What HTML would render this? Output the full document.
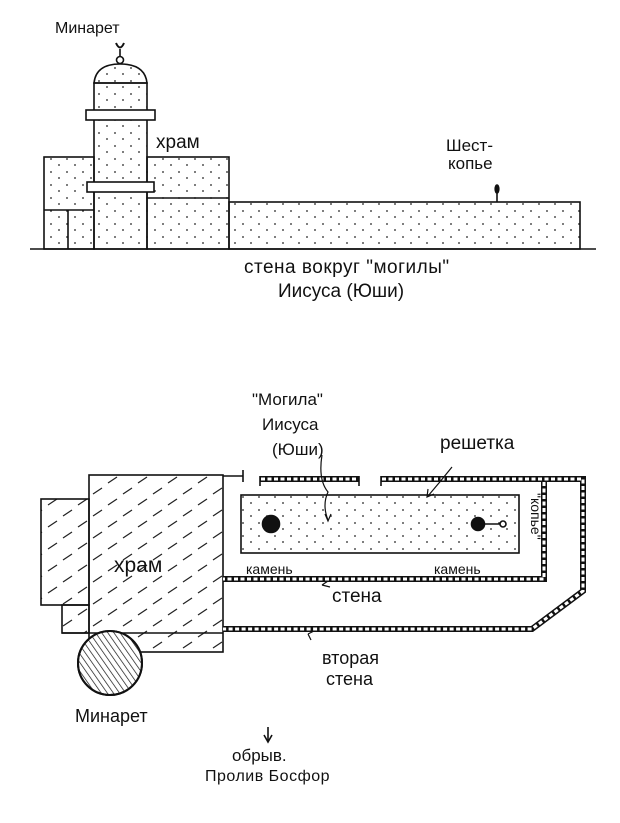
<!DOCTYPE html>
<html><head><meta charset="utf-8"><style>
html,body{margin:0;padding:0;background:#fff}
svg{display:block}
text{font-family:"Liberation Sans",sans-serif;fill:#111}
</style></head><body>
<svg width="620" height="823" viewBox="0 0 620 823" xmlns="http://www.w3.org/2000/svg">
<defs>
<pattern id="dots" width="16" height="13" patternUnits="userSpaceOnUse">
<circle cx="3" cy="3" r="0.9" fill="#222"/><circle cx="11" cy="9" r="0.9" fill="#222"/>
</pattern>
<pattern id="dash" width="30" height="22" patternUnits="userSpaceOnUse">
<line x1="3" y1="10" x2="12" y2="4" stroke="#222" stroke-width="1.2"/>
<line x1="18" y1="21" x2="27" y2="15" stroke="#222" stroke-width="1.2"/>
</pattern>
<pattern id="hatch" width="5" height="5" patternUnits="userSpaceOnUse" patternTransform="rotate(-35)">
<line x1="0" y1="0" x2="0" y2="5" stroke="#111" stroke-width="1.4"/>
</pattern>
</defs>
<g stroke="#111" stroke-width="1.6" fill="none">
<rect x="44" y="157" width="50" height="92" fill="url(#dots)"/>
<line x1="44" y1="210" x2="94" y2="210"/><line x1="68" y1="210" x2="68" y2="249"/>
<rect x="147" y="157" width="82" height="92" fill="url(#dots)"/>
<line x1="147" y1="198" x2="229" y2="198"/>
<rect x="94" y="83" width="53" height="166" fill="url(#dots)"/>
<path d="M94 83 Q96 64 120 64 Q145 64 147 83 Z" fill="url(#dots)"/>
<rect x="86" y="110" width="69" height="10" fill="#fff"/>
<rect x="87" y="182" width="67" height="10" fill="#fff"/>
<circle cx="120" cy="60" r="3.5"/>
<line x1="120" y1="49" x2="120" y2="56"/>
<path d="M116 43 Q120 52 124 43" stroke-width="2"/>
<rect x="229" y="202" width="351" height="47" fill="url(#dots)"/>
<line x1="497" y1="192" x2="497" y2="202"/>
<ellipse cx="497" cy="189" rx="1.8" ry="4" fill="#111"/>
<line x1="30" y1="249" x2="596" y2="249"/>

<rect x="41" y="499" width="48" height="106" fill="url(#dash)"/>
<rect x="62" y="605" width="27" height="28" fill="url(#dash)"/>
<rect x="89" y="475" width="134" height="177" fill="url(#dash)"/>
<line x1="62" y1="633" x2="223" y2="633"/>
<circle cx="110" cy="663" r="32" fill="#fff" stroke-width="2"/>
<circle cx="110" cy="663" r="32" fill="url(#hatch)" stroke-width="2"/>
<line x1="223" y1="476" x2="243" y2="476"/><line x1="243" y1="470" x2="243" y2="482"/>
<g stroke-width="6">
<path d="M260 479 H359"/>
<path d="M381 479 H583 V591 L532 629 H223"/>
<path d="M544 481 V579 H223"/>
</g>
<g stroke="#fff" stroke-width="3" stroke-dasharray="4 2.5">
<path d="M261 479 H358"/>
<path d="M382 479 H583 V591 L532 629 H223"/>
<path d="M544 482 V579 H223"/>
</g>
<line x1="260" y1="476" x2="260" y2="486"/><line x1="359" y1="476" x2="359" y2="486"/>
<line x1="381" y1="476" x2="381" y2="486"/>
<rect x="241" y="495" width="278" height="58" fill="url(#dots)"/>
<circle cx="271" cy="524" r="8.5" fill="#111"/>
<circle cx="478" cy="524" r="6.5" fill="#111"/>
<line x1="478" y1="524" x2="500" y2="524"/>
<circle cx="503" cy="524" r="3" fill="#fff"/>
<path d="M322 455 Q318 480 328 492 Q322 505 328 520" stroke-width="1.2"/>
<path d="M325 514 L328 521 L331 514" stroke-width="1.2"/>
<path d="M452 467 Q440 482 428 496" stroke-width="1.2"/>
<path d="M428 489 L427 497 L434 494" stroke-width="1.2"/>
<path d="M322 585 L328 581 M322 585 L330 587" stroke-width="1.2"/>
<path d="M308 634 L314 631 M308 634 L311 640" stroke-width="1.2"/>
<line x1="268" y1="727" x2="268" y2="741"/>
<path d="M264 735 L268 742 L272 735"/>
</g>
<text x="55" y="33" font-size="16">Минарет</text>
<text x="156" y="148" font-size="19">храм</text>
<text x="446" y="151" font-size="17">Шест-</text>
<text x="448" y="169" font-size="17">копье</text>
<text x="244" y="273" font-size="19" letter-spacing="0.5">стена вокруг "могилы"</text>
<text x="278" y="297" font-size="19">Иисуса (Юши)</text>
<text x="252" y="405" font-size="17">"Могила"</text>
<text x="262" y="430" font-size="17">Иисуса</text>
<text x="272" y="455" font-size="17">(Юши)</text>
<text x="440" y="449" font-size="19">решетка</text>
<text x="114" y="572" font-size="21">храм</text>
<text x="246" y="574" font-size="14">камень</text>
<text x="434" y="574" font-size="14">камень</text>
<text transform="translate(531,493) rotate(90)" font-size="14">"копье"</text>
<text x="332" y="602" font-size="19">стена</text>
<text x="322" y="664" font-size="18">вторая</text>
<text x="326" y="685" font-size="18">стена</text>
<text x="75" y="722" font-size="18">Минарет</text>
<text x="232" y="761" font-size="17">обрыв.</text>
<text x="205" y="781" font-size="16" letter-spacing="0.5">Пролив  Босфор</text>
</svg>
</body></html>
